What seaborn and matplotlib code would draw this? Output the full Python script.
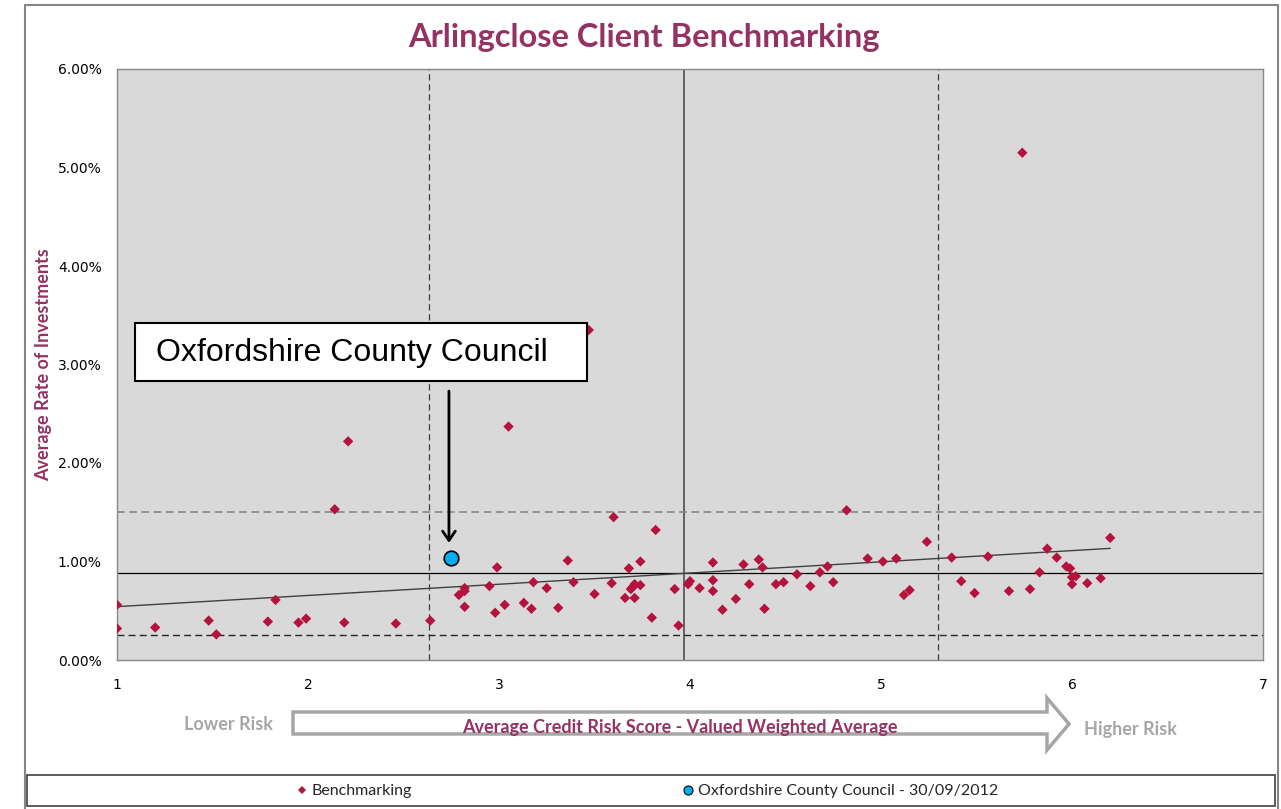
import numpy as np
import pandas as pd
import matplotlib
matplotlib.use("Agg")
import matplotlib.pyplot as plt
import seaborn as sns
from matplotlib.patches import Rectangle, Polygon
from matplotlib.lines import Line2D
from matplotlib.ticker import FuncFormatter

# ---------------- data ----------------
bench_score = [1.00, 1.00, 1.20, 1.48, 1.52, 1.79, 1.83, 1.95, 1.99, 2.14,
               2.19, 2.21, 2.46, 2.64, 2.79, 2.82, 2.82, 2.82, 2.95, 2.99,
               2.98, 3.03, 3.05, 3.13, 3.17, 3.18, 3.25, 3.31, 3.36, 3.39,
               3.47, 3.50, 3.59, 3.60, 3.66, 3.68, 3.69, 3.70, 3.71, 3.71,
               3.74, 3.74, 3.80, 3.82, 3.92, 3.94, 3.99, 4.00, 4.05, 4.12,
               4.12, 4.12, 4.17, 4.24, 4.28, 4.31, 4.36, 4.38, 4.39, 4.45,
               4.49, 4.56, 4.63, 4.68, 4.72, 4.75, 4.82, 4.93, 5.01, 5.08,
               5.12, 5.15, 5.24, 5.37, 5.42, 5.49, 5.56, 5.67, 5.74, 5.78,
               5.83, 5.87, 5.92, 5.97, 5.99, 6.00, 6.02, 6.00, 6.08, 6.15,
               6.20]
bench_rate = [0.32, 0.56, 0.33, 0.40, 0.26, 0.39, 0.61, 0.38, 0.42, 1.53,
              0.38, 2.22, 0.37, 0.40, 0.66, 0.73, 0.70, 0.54, 0.75, 0.94,
              0.48, 0.56, 2.37, 0.58, 0.52, 0.79, 0.73, 0.53, 1.01, 0.79,
              3.35, 0.67, 0.78, 1.45, 0.63, 0.93, 0.72, 0.74, 0.77, 0.63,
              0.76, 1.00, 0.43, 1.32, 0.72, 0.35, 0.77, 0.80, 0.73, 0.70,
              0.99, 0.81, 0.51, 0.62, 0.97, 0.77, 1.02, 0.94, 0.52, 0.77,
              0.79, 0.87, 0.75, 0.89, 0.95, 0.79, 1.52, 1.03, 1.00, 1.03,
              0.66, 0.71, 1.20, 1.04, 0.80, 0.68, 1.05, 0.70, 5.15, 0.72,
              0.89, 1.13, 1.04, 0.95, 0.93, 0.84, 0.85, 0.77, 0.78, 0.83,
              1.24]
ox_score = [2.75]
ox_rate = [1.04]

x_ticks = [1, 2, 3, 4, 5, 6, 7]
y_ticks = [0, 1, 2, 3, 4, 5, 6]

title = "Arlingclose Client Benchmarking"
y_title = "Average Rate of Investments"
x_title = "Average Credit Risk Score - Valued Weighted Average"
callout = "Oxfordshire County Council"
legend_labels = ["Benchmarking", "Oxfordshire County Council - 30/09/2012"]

PURPLE = "#953264"
CRIMSON = "#b5123e"
BLUE = "#00b0f0"
GREY = "#a6a6a6"

# ---------------- figure ----------------
sns.set_theme(style="white")
plt.rcParams["font.family"] = ["DejaVu Sans"]

W, H = 1281, 809
fig = plt.figure(figsize=(W / 100, H / 100), dpi=100)
fig.patch.set_facecolor("white")


def fx(px):
    return px / W


def fy(py):
    return (H - py) / H


ax = fig.add_axes([fx(117), fy(660), fx(1263) - fx(117), fy(69) - fy(660)])
ax.set_facecolor("#d9d9d9")

df = pd.DataFrame({"score": bench_score, "rate": bench_rate})
mx, my = df["score"].mean(), df["rate"].mean()
sx, sy = df["score"].std(), df["rate"].std()

# reference lines (mean, mean +/- 1 sd)
ax.axhline(my, color="black", lw=0.9, zorder=1)
ax.axvline(mx, color="#595959", lw=1.3, zorder=1)
ax.axvline(mx - sx, color="#404040", lw=0.9, ls=(0, (5, 3)), zorder=1)
ax.axvline(mx + sx, color="#404040", lw=0.9, ls=(0, (5, 3)), zorder=1)
ax.axhline(my + sy, color="#7f7f7f", lw=1.1, ls=(0, (5, 3)), zorder=1)
ax.axhline(my - sy, color="#262626", lw=1.0, ls=(0, (5, 3)), zorder=1)

# linear trend line
sns.regplot(data=df, x="score", y="rate", scatter=False, ci=None, ax=ax,
            line_kws=dict(color="#404040", lw=1.0, zorder=2))

# points
sns.scatterplot(data=df, x="score", y="rate", marker="D", s=28, color=CRIMSON,
                edgecolor="none", ax=ax, zorder=3, legend=False)
sns.scatterplot(x=ox_score, y=ox_rate, marker="o", s=110, color=BLUE,
                edgecolor="black", linewidth=1.2, ax=ax, zorder=4, legend=False)

ax.set_xlim(x_ticks[0], x_ticks[-1])
ax.set_ylim(y_ticks[0], y_ticks[-1])
ax.set_xticks(x_ticks)
ax.set_yticks(y_ticks)
ax.yaxis.set_major_formatter(FuncFormatter(lambda v, p: f"{v:.2f}%"))
ax.set_xlabel("")
ax.set_ylabel("")
ax.tick_params(axis="both", direction="out", length=5, width=1, color="#898989",
               labelsize=10, labelcolor="black")
ax.tick_params(axis="x", pad=8)
ax.tick_params(axis="y", pad=6)
for s in ax.spines.values():
    s.set_color("#898989")
    s.set_linewidth(1)

# call-out arrow
ax.annotate("", xy=(2.738, 1.19), xytext=(2.738, 2.73),
            arrowprops=dict(arrowstyle="->,head_length=0.55,head_width=0.38",
                            lw=2, color="black", shrinkA=0, shrinkB=0),
            annotation_clip=False, zorder=5)

# call-out box
fig.add_artist(Rectangle((fx(135), fy(381)), fx(587) - fx(135), fy(323) - fy(381),
                         transform=fig.transFigure, facecolor="white",
                         edgecolor="black", lw=1.5, zorder=5))
fig.text(fx(156), fy(353), callout, ha="left", va="center", fontsize=23,
         family="Liberation Sans", color="black", zorder=6)

# titles
fig.text(fx(644), fy(37), title, ha="center", va="center", fontsize=23.5,
         family="Lato", weight="bold", color=PURPLE)
fig.text(fx(44), fy(365), y_title, ha="center", va="center", rotation=90,
         fontsize=13, family="Lato", weight="bold", color=PURPLE)

# hollow risk arrow
arrow_pts = [(293, 712), (1047, 712), (1047, 698), (1069, 724),
             (1047, 750), (1047, 734), (293, 734)]
fig.add_artist(Polygon([(fx(a), fy(b)) for a, b in arrow_pts], closed=True,
                       transform=fig.transFigure, facecolor="white",
                       edgecolor=GREY, lw=2.5))
fig.text(fx(680), fy(727), x_title, ha="center", va="center", fontsize=13,
         family="Lato", weight="bold", color=PURPLE)
fig.text(fx(229), fy(725), "Lower Risk", ha="center", va="center", fontsize=13,
         family="Lato", weight="bold", color=GREY)
fig.text(fx(1130), fy(729), "Higher Risk", ha="center", va="center", fontsize=13,
         family="Lato", weight="bold", color=GREY)

# outer frame
frame_col = "#868686"
fig.add_artist(Line2D([fx(25), fx(1278)], [fy(5), fy(5)], transform=fig.transFigure,
                      color=frame_col, lw=1.5))
fig.add_artist(Line2D([fx(25), fx(25)], [fy(5), fy(809)], transform=fig.transFigure,
                      color=frame_col, lw=1.5))
fig.add_artist(Line2D([fx(1278), fx(1278)], [fy(5), fy(809)], transform=fig.transFigure,
                      color=frame_col, lw=1.5))

# legend box
fig.add_artist(Rectangle((fx(27), fy(806)), fx(1275) - fx(27), fy(775) - fy(806),
                         transform=fig.transFigure, facecolor="white",
                         edgecolor="#404040", lw=1.2))
handles = [Line2D([], [], ls="none", marker="D", markersize=4.5, color=CRIMSON,
                  markeredgewidth=0),
           Line2D([], [], ls="none", marker="o", markersize=6.5, markerfacecolor=BLUE,
                  markeredgecolor="black", markeredgewidth=0.8)]
fig.legend(handles, legend_labels, loc="center", bbox_to_anchor=(fx(647), fy(791)),
           ncol=2, frameon=False, columnspacing=16.9, handletextpad=0.2,
           handlelength=0.8, prop=dict(family="Lato", size=11.5))

fig.savefig("out.png", dpi=100)
